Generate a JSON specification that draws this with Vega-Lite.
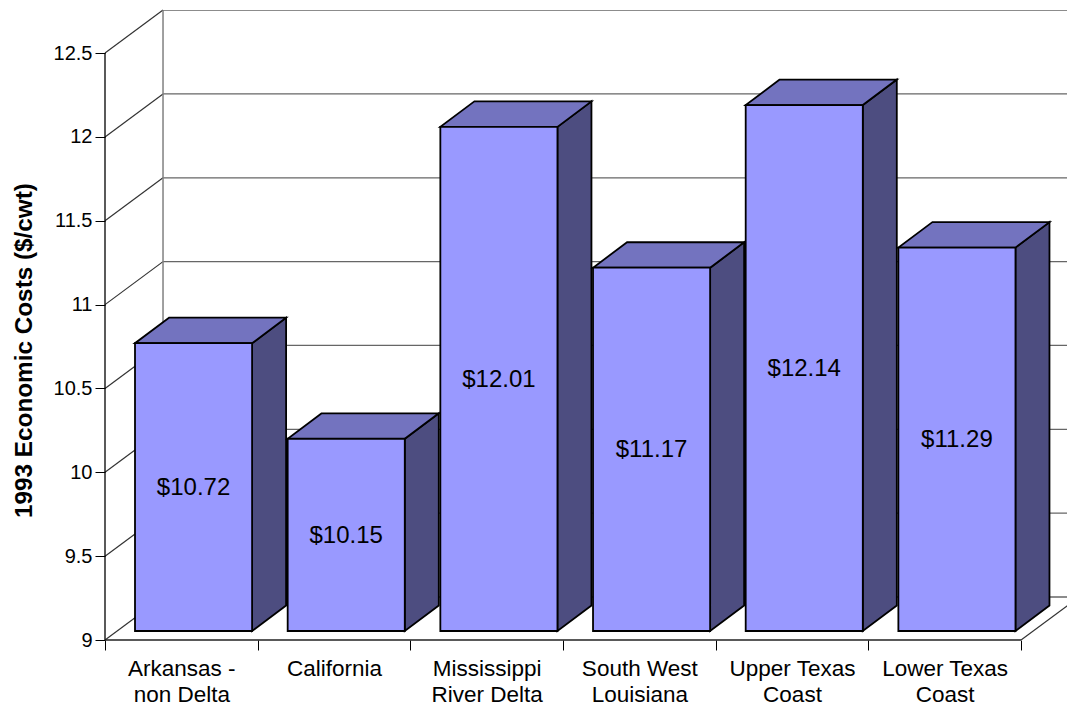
{
"$schema":"https://vega.github.io/schema/vega-lite/v6.json",
"width":962,"height":630,
"autosize":{"type":"none"},
"padding":{"left":105,"top":10,"right":0,"bottom":65},
"background":"white",
"config":{"view":{"stroke":null},"font":"Liberation Sans"},
"datasets":{
"bars":[
{"i":0,"region":"Arkansas - non Delta","cost":10.72},
{"i":1,"region":"California","cost":10.15},
{"i":2,"region":"Mississippi River Delta","cost":12.01},
{"i":3,"region":"South West Louisiana","cost":11.17},
{"i":4,"region":"Upper Texas Coast","cost":12.14},
{"i":5,"region":"Lower Texas Coast","cost":11.29}
],
"levels":[{"level":9},{"level":9.5},{"level":10},{"level":10.5},{"level":11},{"level":11.5},{"level":12},{"level":12.5}]
},
"layer":[
{"data":{"name":"levels"},
 "mark":{"type":"rule","stroke":"#666666","strokeWidth":1.3,"yOffset":-43,"clip":true},
 "encoding":{
  "x":{"datum":0.38,"type":"quantitative","scale":{"domain":[0,6.301],"nice":false,"zero":false},
   "axis":{"values":[0,1,2,3,4,5,6],"title":null,"grid":false,"domain":false,"tickColor":"#000000","tickSize":10,"tickWidth":1,
    "labelOffset":76.3,"labelPadding":7,"labelFont":"Liberation Sans","labelFontSize":22.5,"labelColor":"#000000","labelLineHeight":26,"labelOverlap":false,"labelBound":false,"labelFlush":false,"labelBaseline":"top",
    "labelExpr":"split(['Arkansas -|non Delta','California','Mississippi|River Delta','South West|Louisiana','Upper Texas|Coast','Lower Texas|Coast',''][datum.value],'|')"}},
  "x2":{"datum":6.301},
  "y":{"field":"level","type":"quantitative","scale":{"domain":[9,12.757],"nice":false,"zero":false},
   "axis":{"values":[9,9.5,10,10.5,11,11.5,12,12.5],"grid":false,"domain":false,"title":"1993 Economic Costs ($/cwt)","titleFont":"Liberation Sans","titleFontSize":24.3,"titleFontWeight":"bold","titleColor":"#000000","titleX":-69,"titleY":340,"tickColor":"#000000","tickSize":10,"tickWidth":1,"labelPadding":3,"labelFont":"Liberation Sans","labelFontSize":20,"labelColor":"#000000","labelExpr":"datum.value"}}
 }},
{"data":{"name":"levels"},
 "mark":{"type":"rule","stroke":"#333333","strokeWidth":1.2,"y2Offset":-43},
 "encoding":{"x":{"datum":0,"type":"quantitative"},"x2":{"datum":0.38},"y":{"field":"level","type":"quantitative"},"y2":{"field":"level"}}},
{"mark":{"type":"rule","stroke":"#808080","strokeWidth":1.5,"yOffset":-43,"y2Offset":-43},
 "data":{"values":[{"from":9,"to":12.5}]},
 "encoding":{"x":{"datum":0.38,"type":"quantitative"},"y":{"field":"from","type":"quantitative"},"y2":{"field":"to"}}},
{"mark":{"type":"rule","stroke":"#333333","strokeWidth":1.2,"y2Offset":-43,"clip":true},
 "data":{"values":[{"from":9}]},
 "encoding":{"x":{"datum":6,"type":"quantitative"},"x2":{"datum":6.38},"y":{"field":"from","type":"quantitative"},"y2":{"field":"from"}}},
{"mark":{"type":"rule","stroke":"#000000","strokeWidth":1.3},
 "data":{"values":[{"from":9,"to":12.5}]},
 "encoding":{"x":{"datum":0,"type":"quantitative"},"y":{"field":"from","type":"quantitative"},"y2":{"field":"to"}}},
{"mark":{"type":"rule","stroke":"#222222","strokeWidth":1.5},
 "data":{"values":[{"from":9}]},
 "encoding":{"x":{"datum":0,"type":"quantitative"},"x2":{"datum":6},"y":{"field":"from","type":"quantitative"}}},
{"data":{"name":"bars"},
 "transform":[{"calculate":"datum.i+0.1965+0.767","as":"right"},{"calculate":"[0,1]","as":"t"},{"flatten":["t"]},
  {"calculate":"datum.right+datum.t*0.2227","as":"sx"},{"calculate":"datum.cost+0.05+datum.t*0.152","as":"sy"},{"calculate":"9+0.0537+datum.t*0.152","as":"sy0"}],
 "mark":{"type":"area","fill":"#4D4D80","stroke":"#000000","strokeWidth":1.8,"opacity":1},
 "encoding":{"x":{"field":"sx","type":"quantitative"},"y":{"field":"sy","type":"quantitative"},"y2":{"field":"sy0"},"detail":{"field":"region"}}},
{"data":{"name":"bars"},
 "transform":[{"calculate":"[0,1]","as":"t"},{"flatten":["t"]},
  {"calculate":"datum.i+0.1965+datum.t*0.2227","as":"tx"},{"calculate":"datum.i+0.9635+datum.t*0.2227","as":"tx2"},{"calculate":"datum.cost+0.05+datum.t*0.152","as":"ty"}],
 "mark":{"type":"area","orient":"horizontal","fill":"#7373BF","stroke":"#000000","strokeWidth":1.8,"opacity":1},
 "encoding":{"y":{"field":"ty","type":"quantitative"},"x":{"field":"tx","type":"quantitative"},"x2":{"field":"tx2"},"detail":{"field":"region"}}},
{"data":{"name":"bars"},
 "transform":[{"calculate":"datum.i+0.1965","as":"left"},{"calculate":"datum.i+0.9635","as":"right"},{"calculate":"9","as":"base"}],
 "mark":{"type":"rect","fill":"#9999FF","stroke":"#000000","strokeWidth":1.8,"yOffset":-8.4,"y2Offset":-9},
 "encoding":{"x":{"field":"left","type":"quantitative"},"x2":{"field":"right"},"y":{"field":"cost","type":"quantitative"},"y2":{"field":"base"}}},
{"data":{"name":"bars"},
 "transform":[{"calculate":"datum.i+0.58","as":"mid"},{"calculate":"(datum.cost+9)/2","as":"midY"}],
 "mark":{"type":"text","font":"Liberation Sans","fontSize":24,"color":"#000000","baseline":"middle","align":"center","yOffset":-8},
 "encoding":{"x":{"field":"mid","type":"quantitative"},"y":{"field":"midY","type":"quantitative"},"text":{"field":"cost","type":"quantitative","format":"$.2f"}}}
]
}
